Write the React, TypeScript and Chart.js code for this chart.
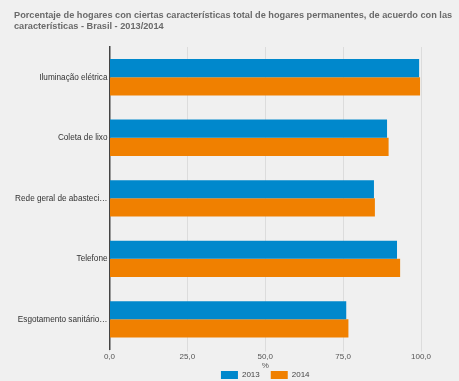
import React, { useEffect, useRef } from "react";
import { Chart, registerables } from "chart.js";

Chart.register(...registerables);

const categories = [
  "Iluminação elétrica",
  "Coleta de lixo",
  "Rede geral de abasteci…",
  "Telefone",
  "Esgotamento sanitário…",
];
const values2013 = [99.4, 89.1, 84.9, 92.3, 76.0];
const values2014 = [99.7, 89.6, 85.2, 93.3, 76.7];
const seriesLabels = ["2013", "2014"];
const titleLines = [
  "Porcentaje de hogares con ciertas características total de hogares permanentes, de acuerdo con las",
  "características - Brasil - 2013/2014",
];
const xAxisTitle = "%";

const FONT = "'Liberation Sans', Arial, sans-serif";

const titlePlugin = {
  id: "customTitle",
  afterDraw(chart: any) {
    const ctx = chart.ctx;
    ctx.save();
    ctx.font = `bold 9.2px ${FONT}`;
    ctx.fillStyle = "#6a6a6a";
    ctx.textAlign = "left";
    ctx.textBaseline = "alphabetic";
    ctx.fillText(titleLines[0], 14, 18);
    ctx.fillText(titleLines[1], 14, 29);
    ctx.restore();
  },
};

export default function App() {
  const ref = useRef<HTMLCanvasElement | null>(null);

  useEffect(() => {
    document.body.style.margin = "0";
    document.body.style.background = "#f0f0f0";
    const canvas = ref.current;
    if (!canvas) return;
    const chart = new Chart(canvas, {
      type: "bar",
      data: {
        labels: categories,
        datasets: [
          {
            label: seriesLabels[0],
            data: values2013,
            backgroundColor: "#0088cc",
            categoryPercentage: 0.6,
            barPercentage: 1.0,
          },
          {
            label: seriesLabels[1],
            data: values2014,
            backgroundColor: "#f08000",
            categoryPercentage: 0.6,
            barPercentage: 1.0,
          },
        ],
      },
      options: {
        indexAxis: "y",
        responsive: false,
        animation: false,
        layout: { padding: { left: 14, right: 38, top: 47, bottom: -8.1 } },
        scales: {
          x: {
            min: 0,
            max: 100,
            ticks: {
              stepSize: 25,
              color: "#555",
              font: { family: FONT, size: 8 },
              padding: 0,
              callback: (v: any) => Number(v).toFixed(1).replace(".", ","),
            },
            grid: { color: "#dcdcdc", lineWidth: 1, tickLength: 2 },
            border: { display: false },
            title: {
              display: true,
              text: xAxisTitle,
              color: "#555",
              font: { family: FONT, size: 8 },
              padding: { top: 0, bottom: -10.3 },
            },
            afterFit: (scale: any) => {
              scale.height = 10.5;
            },
          },
          y: {
            ticks: {
              color: "#333",
              font: { family: FONT, size: 8.2 },
              padding: 2,
            },
            grid: { display: false, drawTicks: false },
            border: { display: true, color: "#444", width: 1.5 },
            afterFit: (scale: any) => {
              scale.width = 95.5;
            },
          },
        },
        plugins: {
          title: { display: false },
          legend: {
            position: "bottom",
            fullSize: false,
            labels: {
              boxWidth: 17,
              boxHeight: 8,
              padding: 11,
              color: "#444",
              font: { family: FONT, size: 8 },
            },
          },
          tooltip: { enabled: false },
        },
      },
      plugins: [titlePlugin],
    });
    return () => chart.destroy();
  }, []);

  return (
    <div style={{ width: 459, height: 381, background: "#f0f0f0" }}>
      <canvas ref={ref} width={459} height={381} />
    </div>
  );
}
